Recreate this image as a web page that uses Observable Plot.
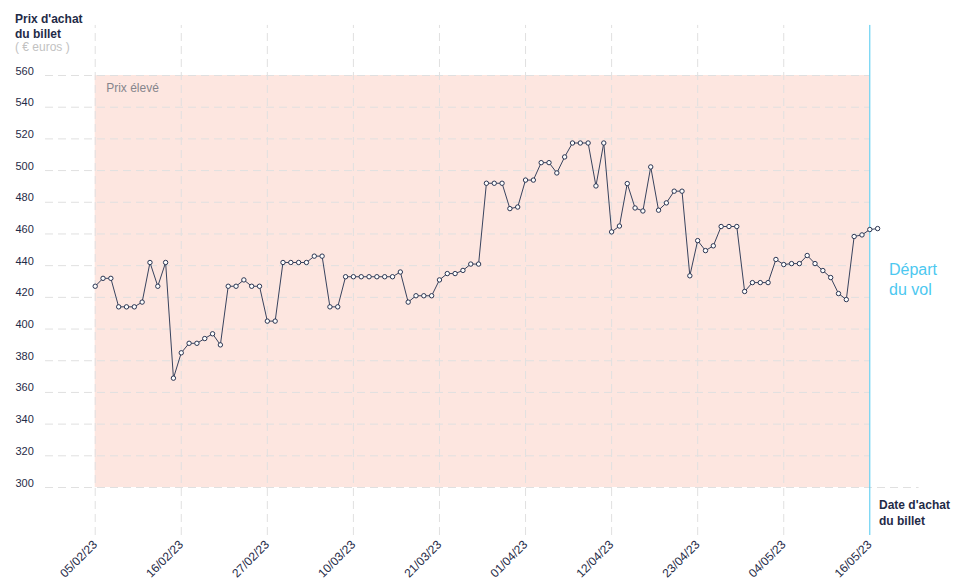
<!DOCTYPE html>
<html><head><meta charset="utf-8">
<script src="https://cdn.jsdelivr.net/npm/d3@7"></script>
<script src="https://cdn.jsdelivr.net/npm/@observablehq/plot@0.6"></script>
<style>body{margin:0;background:#fff;} svg{display:block;}</style>
</head><body><div id="chart"></div>
<script>
// Daily ticket prices (€), day index 0 = 05/02/23
const prices = [
  427, 432, 432, 414, 414, 414, 417, 442, 427, 442,
  369, 385, 391, 391, 394, 397, 390, 427, 427, 431,
  427, 427, 405, 405, 442, 442, 442, 442, 446, 446,
  414, 414, 433, 433, 433, 433, 433, 433, 433, 436,
  417, 421, 421, 421, 431, 435, 435, 437, 441, 441,
  492, 492, 492, 476, 477, 494, 494, 505, 505, 498.5,
  508.6, 517.4, 517.4, 517.4, 490.3, 517.4, 461.3, 465, 491.8, 476.4,
  474.5, 502.3, 475, 479.6, 487, 487, 433.6, 455.8, 449.5, 452.5,
  464.7, 464.7, 464.7, 423.7, 429.3, 429.3, 429.3, 443.9, 440.7, 441.3,
  441.3, 446.4, 441.3, 436.9, 432.5, 422.4, 418.6, 458.4, 459.4, 462.8,
  463.4
];
const tickIdx = [0, 11, 22, 33, 44, 55, 66, 77, 88, 99];
const tickLabels = ["05/02/23","16/02/23","27/02/23","10/03/23","21/03/23","01/04/23","12/04/23","23/04/23","04/05/23","16/05/23"];
const yTicks = [300, 320, 340, 360, 380, 400, 420, 440, 460, 480, 500, 520, 540, 560];
const departIdx = 99;
const bandLow = 300, bandHigh = 560;

const navy = "#1f2b47";
const grid = "#e0e0e0";
const cyan = "#4cc8f0";
const data = prices.map((p, i) => ({i, p}));

const chart = Plot.plot({
  width: 958, height: 585,
  marginLeft: 94.7, marginRight: 88.7, marginTop: 75, marginBottom: 98,
  x: {domain: [0, departIdx], axis: null},
  y: {domain: [bandLow, bandHigh], axis: null},
  style: {fontFamily: "'Liberation Sans', Arial, sans-serif", background: "white"},
  marks: [
    Plot.rect([{x1: 0, x2: departIdx, y1: bandLow, y2: bandHigh}], {x1: "x1", x2: "x2", y1: "y1", y2: "y2", fill: "#fde6e0"}),
    Plot.ruleY(yTicks.filter(d => d > bandLow), {y: d => d, x1: -6.35, x2: departIdx, stroke: grid, strokeDasharray: "8,5"}),
    Plot.ruleY([bandLow], {y: d => d, x1: -6.35, x2: 105.3, stroke: grid, strokeDasharray: "8,5"}),
    Plot.ruleX(tickIdx.filter(d => d !== departIdx), {x: d => d, y1: 269.7, y2: 591.6, stroke: grid, strokeDasharray: "8,5"}),
    Plot.ruleX([departIdx], {x: d => d, y1: 269.7, y2: 591.6, stroke: cyan, strokeWidth: 1}),
    Plot.text(["Prix élevé"], {frameAnchor: "top-left", dx: 11, dy: 16, textAnchor: "start", lineAnchor: "bottom", fontSize: 12, fill: "#85858c", text: d => d}),
    Plot.line(data, {x: "i", y: "p", stroke: "#38435e", strokeWidth: 1}),
    Plot.dot(data, {x: "i", y: "p", r: 2.2, fill: "white", stroke: "#2a3552", strokeWidth: 1}),
    Plot.text(yTicks, {y: d => d, frameAnchor: "left", dx: -79.7, dy: -1, textAnchor: "start", lineAnchor: "bottom", text: d => String(d), fill: navy, fontSize: 11}),
    Plot.text(tickIdx, {x: d => d, frameAnchor: "bottom", dy: 55, rotate: -45, textAnchor: "end", lineAnchor: "middle", text: (d, i) => tickLabels[i], fill: navy, fontSize: 12})
  ]
});

const svg = d3.select(chart);
const ann = [
  {t: "Prix d'achat", x: 15, y: 23, w: "bold", s: 12, c: navy},
  {t: "du billet", x: 15, y: 38, w: "bold", s: 12, c: navy},
  {t: "( € euros )", x: 15, y: 51, w: "normal", s: 12, c: "#c2c2c2"},
  {t: "Date d'achat", x: 879, y: 509, w: "bold", s: 12, c: navy},
  {t: "du billet", x: 879, y: 525, w: "bold", s: 12, c: navy},
  {t: "Départ", x: 889, y: 275, w: "normal", s: 16, c: cyan},
  {t: "du vol", x: 889, y: 295, w: "normal", s: 16, c: cyan}
];
svg.append("g").attr("text-anchor", "start").selectAll("text").data(ann).join("text")
  .attr("text-anchor", "start")
  .attr("x", d => d.x).attr("y", d => d.y)
  .attr("font-weight", d => d.w).attr("font-size", d => d.s)
  .attr("fill", d => d.c)
  .attr("font-family", "'Liberation Sans', Arial, sans-serif")
  .text(d => d.t);

document.getElementById("chart").appendChild(chart);
</script>
</body></html>
